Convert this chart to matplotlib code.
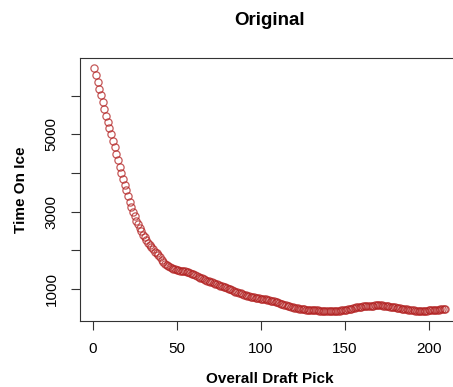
import matplotlib
matplotlib.use("Agg")
import matplotlib.pyplot as plt

plt.rcParams['font.family'] = ['Liberation Sans', 'DejaVu Sans']

# pick number and smoothed time on ice
picks = list(range(1, 211))
toi = [
    6720, 6540, 6360, 6190, 6020, 5830, 5660, 5490, 5330, 5170,
    5010, 4840, 4670, 4500, 4340, 4170, 4010, 3850, 3690, 3550,
    3410, 3260, 3120, 2990, 2880, 2770, 2670, 2580, 2490, 2410,
    2350, 2280, 2200, 2140, 2090, 2030, 1970, 1920, 1870, 1830,
    1760, 1700, 1660, 1620, 1590, 1560, 1540, 1520, 1510, 1500,
    1490, 1470, 1470, 1460, 1460, 1450, 1430, 1420, 1400, 1380,
    1360, 1340, 1310, 1290, 1280, 1260, 1240, 1220, 1200, 1190,
    1170, 1160, 1140, 1120, 1100, 1090, 1070, 1060, 1045, 1030,
    1010, 990, 975, 950, 925, 912, 897, 884, 871, 855,
    842, 829, 819, 806, 796, 783, 772, 767, 762, 754,
    749, 744, 739, 723, 713, 700, 690, 677, 664, 651,
    635, 622, 607, 594, 581, 568, 558, 545, 534, 521,
    514, 503, 493, 485, 477, 472, 467, 462, 457, 454,
    452, 449, 446, 444, 441, 439, 436, 436, 433, 433,
    431, 431, 431, 433, 433, 436, 439, 446, 454, 462,
    467, 475, 483, 493, 503, 514, 524, 534, 542, 547,
    552, 558, 560, 565, 568, 571, 573, 576, 581, 583,
    586, 578, 571, 560, 555, 550, 542, 537, 532, 527,
    519, 508, 501, 493, 483, 475, 470, 462, 457, 452,
    444, 439, 439, 439, 439, 439, 439, 439, 441, 444,
    446, 449, 454, 457, 462, 467, 472, 477, 483, 485,
]

xticks = [0, 50, 100, 150, 200]
yticks = [1000, 2000, 3000, 4000, 5000, 6000]
ytick_labels = ["1000", "", "3000", "", "5000", ""]


def r_limits(vals):
    # same 4% padding that R uses
    lo, hi = min(vals), max(vals)
    pad = (hi - lo) * 0.04
    return lo - pad, hi + pad


fig = plt.figure(figsize=(4.53, 3.87), dpi=100)
ax = fig.add_axes([0.1773, 0.1713, 0.837, 0.678])

ax.plot(picks, toi, 'o', markerfacecolor='none', markeredgecolor='#b22222',
        markeredgewidth=0.9, markersize=5.2, alpha=0.75)

ax.set_xlim(*r_limits(picks))
ax.set_ylim(*r_limits(toi))

ax.set_xticks(xticks)
ax.set_xticklabels([str(t) for t in xticks])
ax.set_yticks(yticks)
ax.set_yticklabels(ytick_labels, rotation=90, va='center')

ax.tick_params(axis='both', direction='out', length=6.5, width=0.8,
               labelsize=11, color='#333333')
ax.tick_params(axis='x', pad=9)
ax.tick_params(axis='y', pad=9)

for s in ax.spines.values():
    s.set_linewidth(0.8)
    s.set_color('#333333')

ax.set_xlabel("Overall Draft Pick", fontsize=11, fontweight='bold', labelpad=11)
ax.set_ylabel("Time On Ice", fontsize=11, fontweight='bold', labelpad=12)
ax.set_title("Original", fontsize=13.5, fontweight='bold', pad=24)

fig.savefig("out.png", dpi=100)
